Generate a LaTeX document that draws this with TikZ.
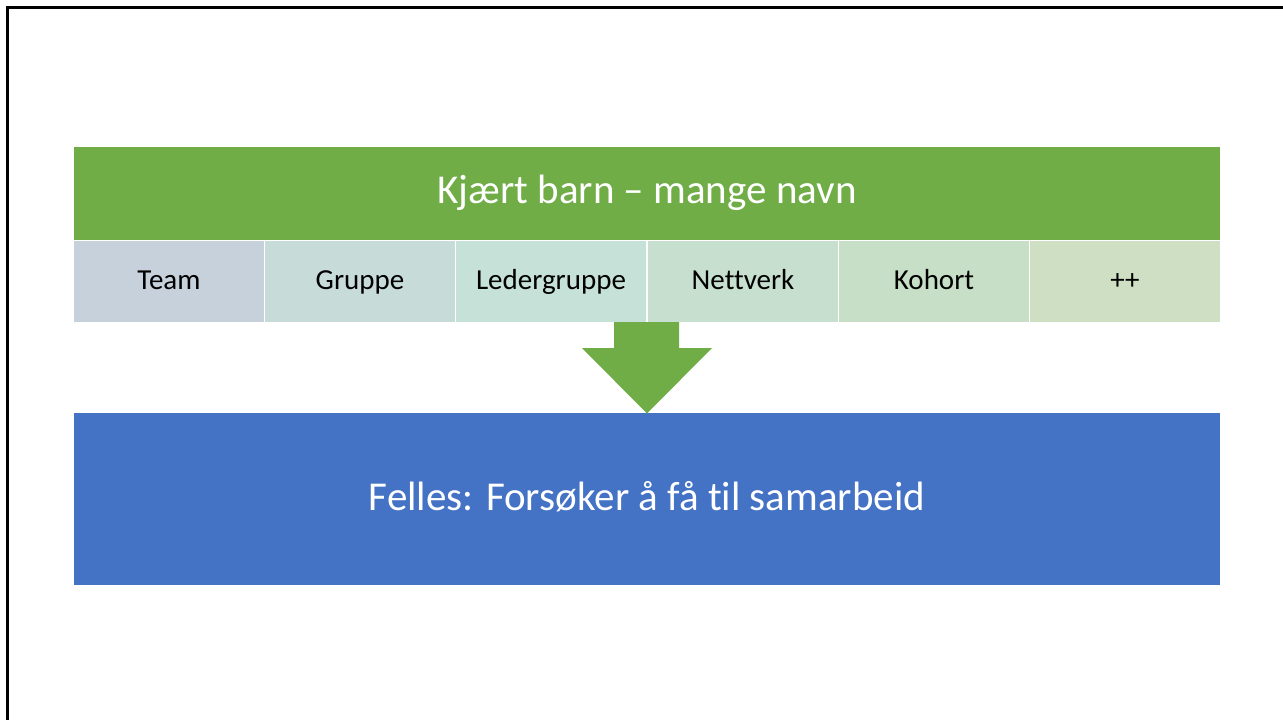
\documentclass[tikz,border=0pt]{standalone}
\usepackage{fontspec}
\setmainfont{Carlito}[Ligatures={NoCommon}]
\definecolor{hdrgreen}{HTML}{70AD47}
\definecolor{boxblue}{HTML}{4472C4}
\definecolor{c1}{HTML}{C7D1DC}
\definecolor{c2}{HTML}{C7DCD9}
\definecolor{c3}{HTML}{C5E1D8}
\definecolor{c4}{HTML}{C6DFCF}
\definecolor{c5}{HTML}{C7DFC6}
\definecolor{c6}{HTML}{CEDFC3}
\tikzset{
  cellbox/.style={draw=white, line width=1pt, minimum width=191pt, minimum height=82pt, inner sep=0pt, font=\fontsize{29}{34}\selectfont, text=black, text height=20pt, text depth=4pt},
  bigbox/.style={inner sep=0pt, text=white, font=\fontsize{41}{48}\selectfont}
}
\begin{document}
\begin{tikzpicture}[x=1pt,y=-1pt]
\useasboundingbox (0,0) rectangle (1283,720);
\fill[white] (0,0) rectangle (1283,720);
% frame
\draw[line width=3pt, black] (7.5,720) -- (7.5,7.5) -- (1283,7.5);
% header
\node[bigbox, fill=hdrgreen, minimum width=1146pt, minimum height=93pt, text height=25pt, text depth=6pt] (hdr) at (647,193.5) {Kjært barn – mange navn};
% cells
\node[cellbox, fill=c1] (team) at (169,281) {Team};
\node[cellbox, fill=c2] (gruppe) at (360,281) {Gruppe};
\node[cellbox, fill=c3] (leder) at (551,281) {Ledergruppe};
\node[cellbox, fill=c4] (nett) at (743,281) {Nettverk};
\node[cellbox, fill=c5] (kohort) at (934,281) {Kohort};
\node[cellbox, fill=c6] (pp) at (1125,281) {++};
% blue box
\node[bigbox, fill=boxblue, minimum width=1146pt, minimum height=172pt, text height=28pt, text depth=6pt] (felles) at (647,499) {Felles: Forsøker å få til samarbeid};
% arrow
\fill[hdrgreen] (614,322) -- (679,322) -- (679,348) -- (712,348) -- (647,413.5) -- (582,348) -- (614,348) -- cycle;
\end{tikzpicture}
\end{document}
